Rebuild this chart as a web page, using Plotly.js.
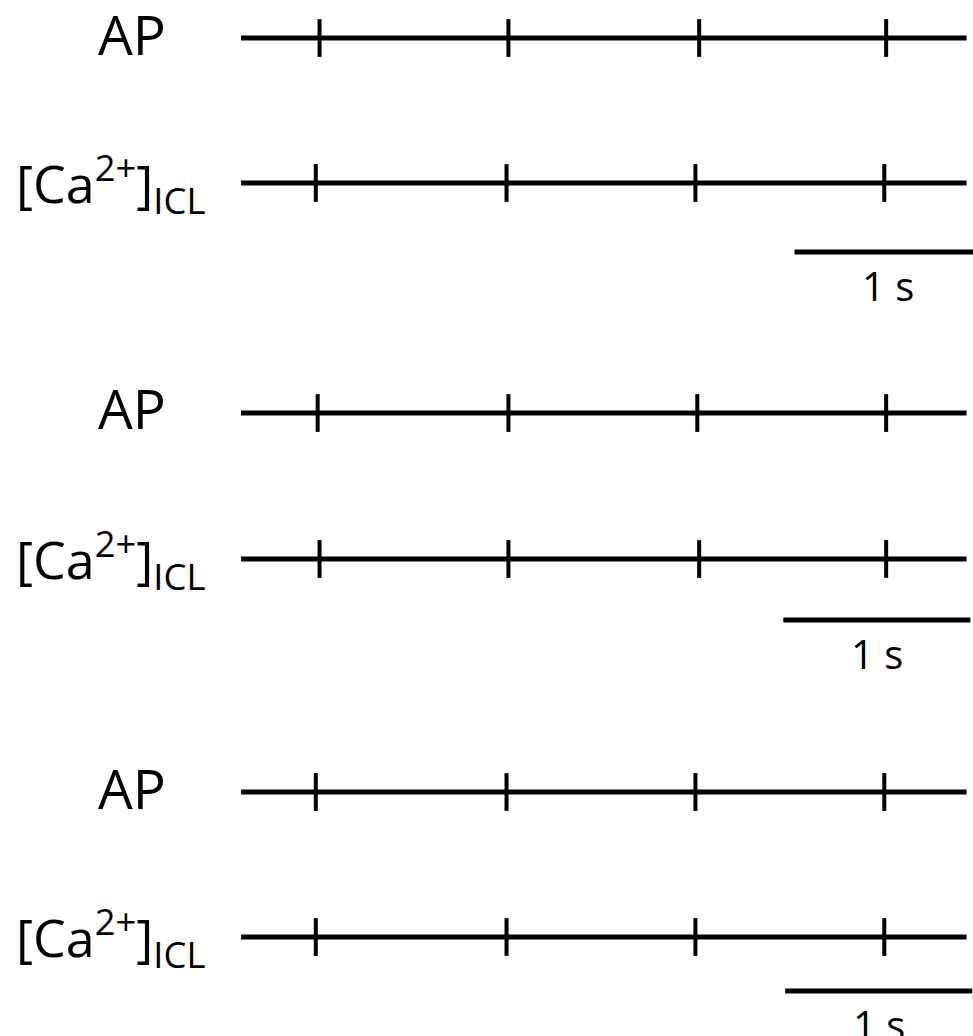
<!DOCTYPE html>
<html lang="en">
<head>
    <meta charset="UTF-8">
    <title>AP / Ca2+ traces</title>
    <script src="https://cdn.plot.ly/plotly-3.0.1.min.js"></script>
    <style>
        html, body { margin: 0; padding: 0; background: #fff; }
        #chart { width: 973px; height: 1036px; }
    </style>
</head>
<body>
    <div id="chart"></div>

    <script>
        // beat times (s) on each trace, one entry per panel
        const apTicks = [
            [0.42, 1.43, 2.45, 3.45],
            [0.41, 1.43, 2.44, 3.45],
            [0.40, 1.42, 2.43, 3.44]
        ];
        const caTicks = [
            [0.40, 1.42, 2.43, 3.44],
            [0.42, 1.43, 2.45, 3.45],
            [0.40, 1.42, 2.43, 3.44]
        ];
        const traceStart = 0;
        const traceEnd = 3.88;
        const scaleStart = [2.96, 2.90, 2.91];
        const scaleLen = 1;
        const rowLabels = ['AP', '[Ca<sup>2+</sup>]<sub>ICL</sub>'];
        const scaleLabel = '1 s';

        // page layout (pixels from top)
        const W = 973, H = 1036;
        const apPx = [38, 413, 792];
        const caPx = [183, 559, 937];
        const scalePx = [252, 620, 991];
        const panelPx = [[0, 320], [330, 700], [710, 1036]];
        const pxPerSec = 187, x0Px = 241;

        const font = "'Open Sans', 'Noto Sans', sans-serif";
        const traces = [];
        const layout = {
            width: W, height: H,
            margin: {l: 0, r: 0, t: 0, b: 0},
            paper_bgcolor: '#fff', plot_bgcolor: '#fff',
            showlegend: false,
            shapes: [], annotations: []
        };

        const xRange = [-x0Px / pxPerSec, (W - x0Px) / pxPerSec];

        for (let i = 0; i < 3; i++) {
            const sfx = i === 0 ? '' : String(i + 1);
            const xa = 'x' + sfx, ya = 'y' + sfx;
            const ap = apPx[i], ca = caPx[i];
            const v = px => (ca - px) / (ca - ap);
            const [top, bot] = panelPx[i];

            layout['xaxis' + sfx] = {
                domain: [0, 1], range: xRange, anchor: ya,
                visible: false, fixedrange: true
            };
            layout['yaxis' + sfx] = {
                domain: [1 - bot / H, 1 - top / H], range: [v(bot), v(top)],
                anchor: xa, visible: false, fixedrange: true
            };

            [[1, apTicks[i]], [0, caTicks[i]]].forEach(([lvl, ticks]) => {
                traces.push({
                    x: [traceStart, traceEnd], y: [lvl, lvl],
                    xaxis: xa, yaxis: ya, mode: 'lines',
                    line: {color: '#000', width: 5}, hoverinfo: 'skip'
                });
                traces.push({
                    x: ticks, y: ticks.map(() => lvl),
                    xaxis: xa, yaxis: ya, mode: 'markers',
                    marker: {symbol: 'line-ns', size: 27, color: '#000',
                             line: {color: '#000', width: 4}},
                    hoverinfo: 'skip'
                });
            });

            // scale bar
            const sy = v(scalePx[i]);
            layout.shapes.push({
                type: 'line', xref: xa, yref: ya,
                x0: scaleStart[i], x1: scaleStart[i] + scaleLen, y0: sy, y1: sy,
                line: {color: '#000', width: 5}
            });
            layout.annotations.push({
                xref: xa, yref: ya, x: scaleStart[i] + scaleLen / 2, y: sy,
                yanchor: 'top', yshift: -4, showarrow: false,
                text: scaleLabel, font: {family: font, size: 40, color: '#000'}
            });

            // row labels
            layout.annotations.push({
                xref: 'paper', yref: ya, x: 132 / W, y: 1, xanchor: 'center',
                yanchor: 'middle', yshift: 5, showarrow: false,
                text: rowLabels[0], font: {family: font, size: 55, color: '#000'}
            });
            layout.annotations.push({
                xref: 'paper', yref: ya, x: 14 / W, y: 0, xanchor: 'left',
                yanchor: 'middle', yshift: 0, showarrow: false,
                text: rowLabels[1], font: {family: font, size: 52, color: '#000'}
            });
        }

        Plotly.newPlot('chart', traces, layout, {displayModeBar: false, staticPlot: true});
    </script>
</body>
</html>
